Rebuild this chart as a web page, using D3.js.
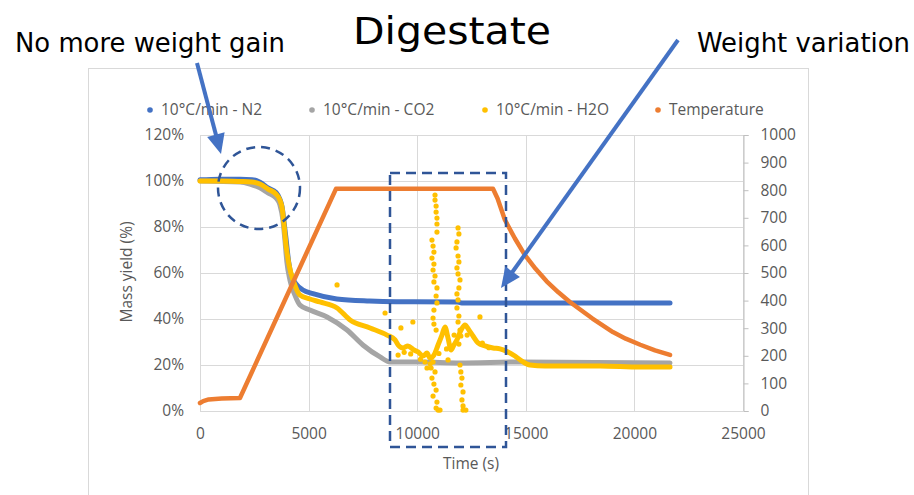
<!DOCTYPE html>
<html lang="en">
<head>
   <meta charset="UTF-8">
   <title>Digestate</title>
   <script src="https://cdn.jsdelivr.net/npm/d3@7"></script>
   <style>
      body { margin: 0; background: #fff; }
      text { font-family: "Open Sans", "Noto Sans", sans-serif; }
   </style>
</head>
<body>
   <svg id="chart" width="914" height="495"></svg>

   <script>
       // ---- data ----
       const timeTicks = [0, 5000, 10000, 15000, 20000, 25000];
       const yieldTicks = [0, 20, 40, 60, 80, 100, 120];
       const tempTicks = [0, 100, 200, 300, 400, 500, 600, 700, 800, 900, 1000];
       const seriesNames = ["10°C/min - N2", "10°C/min - CO2", "10°C/min - H2O", "Temperature"];
       const seriesColors = ["#4472C4", "#A5A5A5", "#FFC000", "#ED7D31"];

       // [time (s), mass yield (%)]
       const n2 = [[0,100.5],[900,100.8],[1850,100.8],[2400,100.6],[2760,99.5],[3130,97],[3500,95],[3680,92],
           [3780,88.7],[3870,82],[3960,75],[4080,65],[4200,59],[4400,55.5],[4740,52.6],[5200,51],[6300,48.7],
           [7800,47.8],[9030,47.5],[11840,47.4],[12050,47],[21640,47]];
       const co2 = [[0,100],[1850,99.6],[2300,98.7],[2760,97],[3130,94.8],[3500,92.6],[3680,89.6],[3820,83],
           [3910,74.3],[4000,64.8],[4140,57],[4370,50.4],[4600,46.1],[5060,43.9],[5850,40.9],[6770,35.2],
           [7500,28.7],[8290,23.5],[8750,21.3],[10130,21.3],[11970,20.9],[14730,21.3],[21640,20.9]];
       const h2o = [[0,100],[920,100],[1840,99.8],[2390,99.6],[2760,98.7],[3130,96.5],[3500,94.3],[3680,91.7],
           [3780,88.3],[3870,80.9],[3960,72.2],[4100,63.5],[4330,55.7],[4600,50.4],[5060,48.7],[5520,47.4],
           [6310,44.8],[6910,39.6],[7830,36.1],[8610,33],[8980,30.9],[9120,28.7],[9350,27.4],[9570,28.3],
           [9850,26.5],[10040,25.7],[10270,23.9],[10450,25.2],[10590,23],[10770,24.3],[10960,28.7],[11140,33],
           [11280,36.5],[11420,31.7],[11560,26.5],[11690,28.7],[11830,30.9],[12020,35.2],[12200,37.4],
           [12380,35.2],[12570,32.6],[12800,29.6],[13120,28.3],[13490,27.4],[13810,27],[14180,25.7],
           [14500,23.9],[14820,21.7],[15190,20],[15880,19.6],[18420,19.6],[20260,19.1],[21640,19.1]];
       // scattered H2O readings (balance noise)
       const h2oNoise = [[6310,54.8],[8520,42.6],[9250,36.1],[9800,38.7],[12890,40.9],[11420,22.2],
           [9120,24.3],[10360,21.3],[10450,18.7],[9400,25.5],[9700,24.8],[10150,22.5],[10600,20.5],
           [11000,25],[11350,27],[11700,33],[12300,33],[13000,29.5],[13300,27.5],
           [10820,93.9],[10820,91.7],[10870,89.1],[10870,86.5],[10910,83.9],[10910,81.3],[10910,77.8],
           [10680,74.3],[10730,71.7],[10770,69.1],[10680,66.5],[10770,63.9],[10730,61.3],[10820,58.7],
           [10770,56.1],[10910,53.5],[10870,50],[10910,47],[10770,43.9],[10730,40.4],[10770,37.8],[10870,35.2],
           [10730,21.3],[10640,18.7],[10820,17],[10680,14.3],[10770,11.7],[10870,9.1],[10730,6.5],[10910,3.9],
           [10870,1.3],[10960,0.4],[11050,0.4],
           [11880,79.6],[11920,77],[11830,73.5],[11790,70.9],[11880,67.4],[11920,64.8],[11830,62.2],
           [11880,59.6],[11970,57],[11920,53.5],[11830,50.9],[11880,48.3],[11830,44.8],[11920,41.3],
           [11880,38.7],[11970,35.2],[12010,32.6],[11920,29.1],[11970,20],[12010,17],[12060,14.3],
           [12010,11.3],[12110,8.3],[12060,4.8],[12110,2.2],[12110,0.4],[12240,0.4]];
       // [time (s), temperature (°C)]
       const temperature = [[0,29],[150,36],[400,42],[1000,45],[1840,47],[6260,805],[13490,805],[13700,770],
           [14040,692],[14500,625],[14960,565],[15450,515],[15960,470],[16500,430],[17030,395],[18070,335],
           [19010,286],[19600,262],[20270,240],[20950,220],[21640,203]];

       const svg = d3.select('#chart');
       const grey = '#595959', grid = '#D9D9D9';
       const fs = '15.5px';

       const x = d3.scaleLinear().domain([0, 25000]).range([200, 743]);
       const y = d3.scaleLinear().domain([0, 120]).range([411, 135]);
       const y2 = d3.scaleLinear().domain([0, 1000]).range([411, 135]);

       // chart frame
       svg.append('rect').attr('x', 88.5).attr('y', 68.5).attr('width', 720).attr('height', 440)
           .attr('fill', 'none').attr('stroke', grid);

       // gridlines
       svg.append('g').selectAll('line').data(yieldTicks).join('line')
           .attr('x1', x(0)).attr('x2', x(25000))
           .attr('y1', d => Math.round(y(d)) + 0.5).attr('y2', d => Math.round(y(d)) + 0.5)
           .attr('stroke', grid);
       svg.append('g').selectAll('line').data(timeTicks).join('line')
           .attr('x1', d => Math.round(x(d)) + 0.5).attr('x2', d => Math.round(x(d)) + 0.5)
           .attr('y1', y(120)).attr('y2', y(0))
           .attr('stroke', grid);

       // axes
       const yAxis = svg.append('g').attr('transform', 'translate(200,0)')
           .call(d3.axisLeft(y).tickValues(yieldTicks).tickFormat(d => d + '%').tickSize(0).tickPadding(16));
       const xAxis = svg.append('g').attr('transform', 'translate(0,411)')
           .call(d3.axisBottom(x).tickValues(timeTicks).tickFormat(d3.format('d')).tickSize(0).tickPadding(17));
       const y2Axis = svg.append('g').attr('transform', 'translate(743.5,0)')
           .call(d3.axisRight(y2).tickValues(tempTicks).tickFormat(d3.format('d')).tickSize(5).tickPadding(12));

       [yAxis, xAxis, y2Axis].forEach(g => {
           g.attr('font-family', null).attr('font-size', null);
           g.selectAll('text').attr('fill', grey).style('font-size', fs);
           g.selectAll('.domain').attr('stroke', '#BFBFBF');
           g.selectAll('.tick line').attr('stroke', '#BFBFBF');
       });
       yAxis.select('.domain').remove();
       xAxis.select('.domain').remove();

       // axis titles
       svg.append('text').attr('transform', 'translate(132,272) rotate(-90)')
           .attr('text-anchor', 'middle').attr('fill', grey).style('font-size', fs).text('Mass yield (%)');
       svg.append('text').attr('x', 471).attr('y', 469)
           .attr('text-anchor', 'middle').attr('fill', grey).style('font-size', fs).text('Time (s)');

       // series
       const line = d3.line().x(d => x(d[0])).y(d => y(d[1])).curve(d3.curveMonotoneX);
       const tLine = d3.line().x(d => x(d[0])).y(d => y2(d[1]));

       [n2, co2, h2o].forEach((s, i) => {
           svg.append('path').datum(s).attr('d', line)
               .attr('fill', 'none').attr('stroke', seriesColors[i]).attr('stroke-width', 5)
               .attr('stroke-linejoin', 'round').attr('stroke-linecap', 'round');
       });
       svg.append('g').selectAll('circle').data(h2oNoise).join('circle')
           .attr('cx', d => x(d[0])).attr('cy', d => y(d[1])).attr('r', 2.6)
           .attr('fill', seriesColors[2]);

       svg.append('path').datum(temperature).attr('d', tLine)
           .attr('fill', 'none').attr('stroke', seriesColors[3]).attr('stroke-width', 4.5)
           .attr('stroke-linejoin', 'round').attr('stroke-linecap', 'round');

       // legend
       const legX = [150, 312, 485, 658];
       const leg = svg.append('g').selectAll('g').data(seriesNames).join('g')
           .attr('transform', (d, i) => `translate(${legX[i]},110)`);
       leg.append('circle').attr('r', 2.8).attr('fill', (d, i) => seriesColors[i]);
       leg.append('text').attr('x', 11).attr('dy', '0.35em').attr('fill', grey)
           .style('font-size', fs).text(d => d);

       // annotations
       const dark = '#2F5597', arrowBlue = '#4472C4';
       svg.append('ellipse').attr('cx', 259).attr('cy', 188).attr('rx', 41).attr('ry', 41)
           .attr('fill', 'none').attr('stroke', dark).attr('stroke-width', 2.5).attr('stroke-dasharray', '9 6');
       svg.append('rect').attr('x', 390).attr('y', 173).attr('width', 116).attr('height', 274)
           .attr('fill', 'none').attr('stroke', dark).attr('stroke-width', 2.5).attr('stroke-dasharray', '10 6');

       function arrow(x1, y1, x2, y2) {
           const len = Math.hypot(x2 - x1, y2 - y1);
           const ux = (x2 - x1) / len, uy = (y2 - y1) / len;
           const bx = x2 - ux * 20, by = y2 - uy * 20;
           svg.append('line').attr('x1', x1).attr('y1', y1).attr('x2', bx + ux).attr('y2', by + uy)
               .attr('stroke', arrowBlue).attr('stroke-width', 4);
           svg.append('path')
               .attr('d', `M${x2},${y2} L${bx - uy * 9},${by + ux * 9} L${bx + uy * 9},${by - ux * 9} Z`)
               .attr('fill', arrowBlue);
       }
       arrow(197, 63, 221, 154);
       arrow(678, 40, 501, 288);

       svg.append('text').attr('x', 452).attr('y', 44).attr('text-anchor', 'middle')
           .attr('textLength', 198).attr('lengthAdjust', 'spacingAndGlyphs')
           .style('font-family', '"DejaVu Sans", sans-serif').style('font-size', '37px').attr('fill', '#000')
           .text('Digestate');
       svg.append('text').attr('x', 15).attr('y', 52)
           .attr('textLength', 270).attr('lengthAdjust', 'spacingAndGlyphs')
           .style('font-family', '"DejaVu Sans", sans-serif').style('font-size', '26px').attr('fill', '#000')
           .text('No more weight gain');
       svg.append('text').attr('x', 697).attr('y', 52)
           .attr('textLength', 213).attr('lengthAdjust', 'spacingAndGlyphs')
           .style('font-family', '"DejaVu Sans", sans-serif').style('font-size', '26px').attr('fill', '#000')
           .text('Weight variation');
</script>
</body>
</html>
